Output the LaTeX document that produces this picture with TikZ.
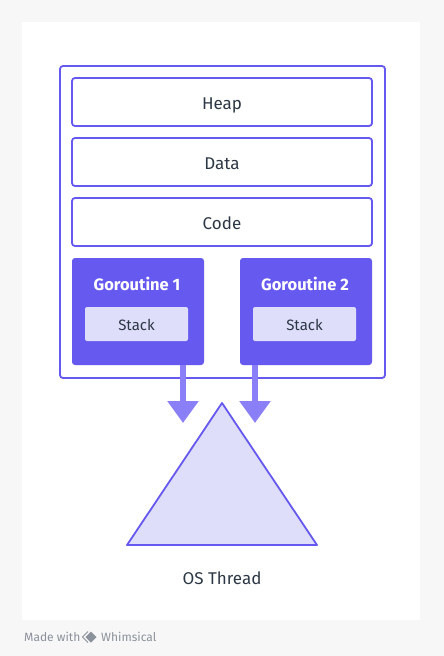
\documentclass[tikz,border=0pt]{standalone}
\usepackage{fontspec}
\setmainfont{Fira Sans}
\usetikzlibrary{arrows.meta}
\definecolor{bgc}{HTML}{F7F7F8}
\definecolor{pur}{HTML}{6659F0}
\definecolor{purl}{HTML}{8A7FF7}
\definecolor{lav}{HTML}{DEDDFA}
\definecolor{txt}{HTML}{2D3846}
\definecolor{gry}{HTML}{8C929B}
\tikzset{
  seg/.style={draw=pur, line width=1.8pt, rounded corners=3pt, fill=white, minimum width=300pt, minimum height=48pt, text=txt, font=\fontsize{17}{20}\selectfont, text height=16pt, text depth=2pt},
  gor/.style={fill=pur, rounded corners=3pt, minimum width=132pt, minimum height=107pt},
  stk/.style={fill=lav, rounded corners=2pt, minimum width=103pt, minimum height=34pt, text=txt, font=\fontsize{15}{18}\selectfont, text height=13pt, text depth=1pt},
  gtitle/.style={text=white, font=\fontsize{16.5}{20}\selectfont\bfseries},
  flow/.style={draw=purl, line width=6pt, -{Triangle[length=22pt,width=30pt]}},
}
\begin{document}
\begin{tikzpicture}[x=1pt,y=-1pt]
\useasboundingbox (0,0) rectangle (444,656);
\fill[bgc] (0,0) rectangle (444,656);
\fill[black!3] (21,21) rectangle (421,621);
\fill[white] (22,22) rectangle (420,620);
\node[draw=pur, line width=1.8pt, rounded corners=3pt, minimum width=325pt, minimum height=312pt] (proc) at (222.5,222) {};
\node[seg] (heap) at (222,102) {Heap};
\node[seg] (data) at (222,162) {Data};
\node[seg] (code) at (222,222) {Code};
\node[gor] (g1) at (138,311.5) {};
\node[gor] (g2) at (306,311.5) {};
\node[gtitle] (g1t) at (137,284) {Goroutine 1};
\node[gtitle] (g2t) at (305,284) {Goroutine 2};
\node[stk] (s1) at (136.5,324) {Stack};
\node[stk] (s2) at (304.5,324) {Stack};
\draw[draw=pur, line width=1.8pt, line join=round, fill=lav] (222,403) -- (317,545) -- (127,545) -- cycle;
\node[text=txt, font=\fontsize{17}{20}\selectfont] (os) at (222,578) {OS Thread};
\coordinate (a1) at (183,423);
\coordinate (a2) at (255,423);
\draw[flow] (g1.south -| a1) -- (a1);
\draw[flow] (g2.south -| a2) -- (a2);
\node[anchor=west, text=gry, font=\fontsize{12}{14}\selectfont, inner sep=0pt] (made) at (24,637) {Made with};
\node[anchor=west, text=gry, font=\fontsize{12}{14}\selectfont, inner sep=0pt] (whim) at (101,637) {Whimsical};
\fill[gry] (91,631.5) -- (96.5,637) -- (91,642.5) -- (85.5,637) -- cycle;
\draw[gry, line width=1pt] (88,631.5) -- (82.5,637) -- (88,642.5);
\end{tikzpicture}
\end{document}
